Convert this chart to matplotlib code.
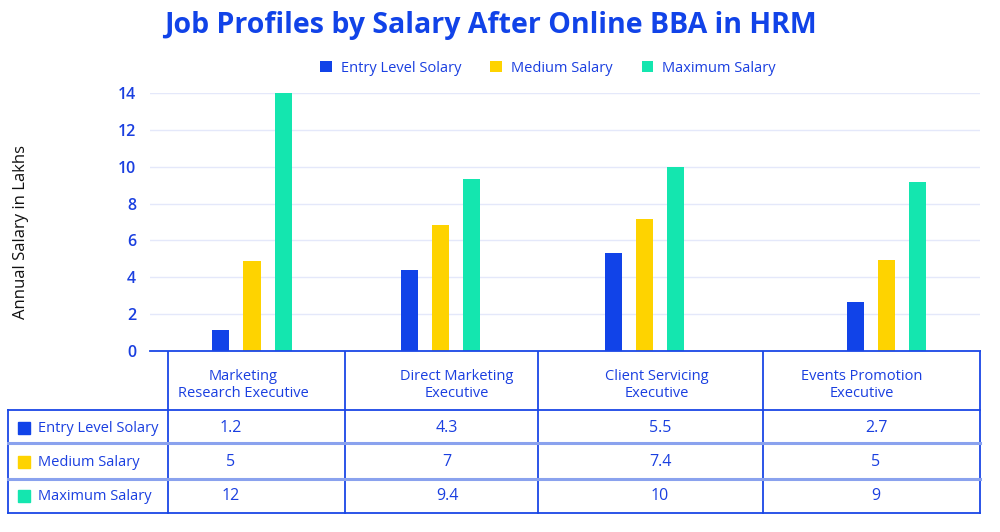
import matplotlib
matplotlib.use("Agg")
import matplotlib.pyplot as plt

plt.rcParams['font.family'] = ['Open Sans', 'DejaVu Sans']

# data
jobs = ["Marketing\nResearch Executive", "Direct Marketing\nExecutive",
        "Client Servicing\nExecutive", "Events Promotion\nExecutive"]
series = ["Entry Level Solary", "Medium Salary", "Maximum Salary"]
entry_bars = [1.15, 4.4, 5.3, 2.65]
medium_bars = [4.9, 6.85, 7.15, 4.95]
max_bars = [14, 9.35, 10.0, 9.15]
# values printed in the table (not the same as the bar heights)
entry_table = ["1.2", "4.3", "5.5", "2.7"]
medium_table = ["5", "7", "7.4", "5"]
max_table = ["12", "9.4", "10", "9"]
yticks = [0, 2, 4, 6, 8, 10, 12, 14]

BLUE = "#1143e8"
YELLOW = "#fed300"
GREEN = "#14e6af"
TXT = "#1a3fe0"
DARK = "#1a47e6"
LIGHT = "#8aa2ee"
colors = [BLUE, YELLOW, GREEN]

W, H = 1000, 532
fig = plt.figure(figsize=(W / 100, H / 100), dpi=100)

# layout in figure pixels
col_edges = [168, 345, 538, 763, 980]
group_x = [252, 440, 644, 886]
head_x = [243, 457, 657, 862]
cell_x = [231, 447, 660, 876]
row_lines = [410, 443, 479, 513]
row_y = [428, 462, 496]

# bar panel
ax_left, ax_right, ax_top, ax_bot = 150, 980, 93, 351
ax = fig.add_axes([ax_left / W, 1 - ax_bot / H,
                   (ax_right - ax_left) / W, (ax_bot - ax_top) / H])
ax.set_xlim(ax_left, ax_right)
ax.set_ylim(0, 14)

step, bw = 31, 17
handles = []
for k, vals in enumerate([entry_bars, medium_bars, max_bars]):
    b = ax.bar([g + (k - 1) * step for g in group_x], vals, width=bw,
               color=colors[k], label=series[k], zorder=3, clip_on=False)
    handles.append(b)

ax.set_yticks(yticks)
ax.set_yticklabels([str(t) for t in yticks], color=TXT, fontsize=11.5,
                   fontweight='semibold')
ax.tick_params(axis='y', length=0, pad=10)
ax.set_xticks([])
ax.grid(axis='y', color="#e4e8fa", linewidth=1, zorder=0)
for s in ['top', 'right', 'left']:
    ax.spines[s].set_visible(False)
ax.spines['bottom'].set_color(DARK)
ax.spines['bottom'].set_linewidth(1.3)
ax.spines['bottom'].set_zorder(4)

fig.text(21 / W, 1 - 232 / H, "Annual Salary in Lakhs", rotation=90,
         ha='center', va='center', fontsize=12, color="#111111")

fig.text(490 / W, 1 - 25 / H, "Job Profiles by Salary After Online BBA in HRM",
         ha='center', va='center', fontsize=20.5, fontweight='bold', color=BLUE)

fig.legend(handles=handles, loc='center', bbox_to_anchor=(548 / W, 1 - 68 / H),
           ncol=3, frameon=False, fontsize=10.5, handlelength=0.8,
           handleheight=0.8, handletextpad=0.6, columnspacing=2.0,
           labelcolor=TXT)

# table overlay in pixel coordinates
tx = fig.add_axes([0, 0, 1, 1], zorder=-1)
tx.set_xlim(0, W)
tx.set_ylim(H, 0)
tx.axis('off')

for x in col_edges:
    tx.plot([x, x], [ax_bot, row_lines[-1]], color=DARK, lw=1.3)
tx.plot([8, 8], [row_lines[0], row_lines[-1]], color=DARK, lw=1.3)
tx.plot([8, col_edges[-1]], [row_lines[0]] * 2, color=DARK, lw=1.3)
tx.plot([8, col_edges[-1]], [row_lines[-1]] * 2, color=DARK, lw=1.3)
for y in row_lines[1:-1]:
    tx.plot([8, col_edges[-1]], [y, y], color=LIGHT, lw=2.2)

for i, j in enumerate(jobs):
    tx.text(head_x[i], 385, j, ha='center', va='center', fontsize=10.5,
            color=TXT, linespacing=1.1)

for r, vals in enumerate([entry_table, medium_table, max_table]):
    tx.add_patch(plt.Rectangle((18, row_y[r] - 6), 12, 12, color=colors[r]))
    tx.text(38, row_y[r], series[r], ha='left', va='center', fontsize=10.5,
            color=TXT)
    for i, v in enumerate(vals):
        tx.text(cell_x[i], row_y[r], v, ha='center', va='center',
                fontsize=11.5, color=TXT)

fig.savefig("out.png", dpi=100, facecolor='white')
